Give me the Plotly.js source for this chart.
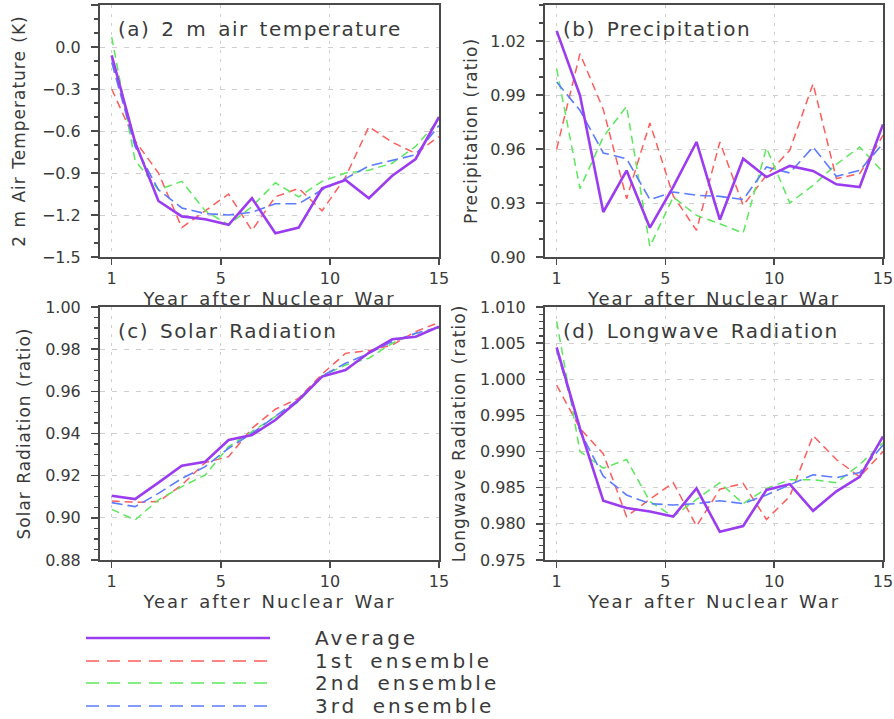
<!DOCTYPE html>
<html>
<head>
<meta charset="utf-8">
<script src="https://cdn.plot.ly/plotly-3.0.1.min.js"></script>
<style>
  html, body { margin: 0; padding: 0; background: #fff; }
  #chart { width: 894px; height: 719px; }
</style>
</head>
<body>
<div id="chart"></div>
<script>
// ---------- data ----------
const years = [1, 2, 3, 4, 5, 6, 7, 8, 9, 10, 11, 12, 13, 14, 15];
const xTickVals = [1, 5.667, 10.333, 15];
const xTickText = ['1', '5', '10', '15'];

const seriesNames = ['Average', '1st ensemble', '2nd ensemble', '3rd ensemble'];

// (a) 2 m air temperature (K)
const tempAvg  = [-0.06, -0.68, -1.10, -1.21, -1.23, -1.27, -1.08, -1.33, -1.29, -1.01, -0.95, -1.08, -0.92, -0.80, -0.50];
const tempEns1 = [-0.30, -0.67, -0.90, -1.29, -1.17, -1.05, -1.31, -1.07, -1.01, -1.17, -0.93, -0.57, -0.68, -0.76, -0.64];
const tempEns2 = [0.07, -0.81, -1.02, -0.96, -1.17, -1.27, -1.14, -0.97, -1.07, -0.96, -0.90, -0.88, -0.83, -0.71, -0.52];
const tempEns3 = [-0.11, -0.71, -1.02, -1.15, -1.19, -1.20, -1.18, -1.12, -1.12, -1.02, -0.94, -0.85, -0.81, -0.77, -0.56];

// (b) Precipitation (ratio)
const precAvg  = [1.0256, 0.9898, 0.925, 0.948, 0.9163, 0.939, 0.9639, 0.9207, 0.9546, 0.9444, 0.9506, 0.9478, 0.9404, 0.9389, 0.9737];
const precEns1 = [0.960, 1.013, 0.982, 0.9324, 0.9744, 0.934, 0.9148, 0.9639, 0.9287, 0.9454, 0.9593, 0.9963, 0.9435, 0.9463, 0.9676];
const precEns2 = [1.0046, 0.938, 0.9667, 0.9837, 0.9059, 0.9333, 0.9231, 0.9185, 0.9133, 0.9607, 0.930, 0.9398, 0.9515, 0.9611, 0.9472];
const precEns3 = [0.9972, 0.9815, 0.9578, 0.9546, 0.9319, 0.9361, 0.9343, 0.9337, 0.9319, 0.950, 0.9467, 0.9611, 0.9448, 0.9481, 0.963];

// (c) Solar Radiation (ratio)
const solAvg  = [0.9105, 0.9089, 0.9167, 0.9247, 0.9266, 0.9369, 0.9393, 0.9464, 0.9559, 0.967, 0.9701, 0.9783, 0.9847, 0.9859, 0.9907];
const solEns1 = [0.908, 0.9074, 0.9077, 0.9156, 0.9262, 0.929, 0.9425, 0.9515, 0.9567, 0.9682, 0.978, 0.9793, 0.982, 0.9883, 0.9927];
const solEns2 = [0.904, 0.899, 0.9085, 0.9148, 0.9203, 0.9338, 0.9409, 0.948, 0.9551, 0.9673, 0.9725, 0.9757, 0.9828, 0.9875, 0.9899];
const solEns3 = [0.9072, 0.9053, 0.9116, 0.9187, 0.9243, 0.933, 0.9401, 0.9483, 0.9562, 0.9673, 0.9733, 0.978, 0.9836, 0.9875, 0.9904];

// (d) Longwave Radiation (ratio)
const lwAvg  = [1.0044, 0.9932, 0.9832, 0.9822, 0.9817, 0.981, 0.9849, 0.9789, 0.9797, 0.9847, 0.9855, 0.9818, 0.9845, 0.9865, 0.9921];
const lwEns1 = [0.9992, 0.9932, 0.9897, 0.981, 0.9834, 0.9857, 0.9797, 0.9848, 0.9856, 0.9806, 0.9838, 0.9922, 0.9889, 0.9865, 0.990];
const lwEns2 = [1.008, 0.990, 0.9877, 0.9889, 0.9831, 0.981, 0.9834, 0.9857, 0.9828, 0.9849, 0.9861, 0.9861, 0.9857, 0.9882, 0.9912];
const lwEns3 = [1.0041, 0.9928, 0.9866, 0.984, 0.9828, 0.9826, 0.9828, 0.9832, 0.9828, 0.984, 0.9854, 0.9868, 0.9864, 0.9871, 0.9909];

const panelTitles = ['(a) 2 m air temperature', '(b) Precipitation', '(c) Solar Radiation', '(d) Longwave Radiation'];
const yTitles = ['2 m Air Temperature (K)', 'Precipitation (ratio)', 'Solar Radiation (ratio)', 'Longwave Radiation (ratio)'];
const xTitle = 'Year after Nuclear War';

// ---------- styling ----------
const W = 894, H = 719;
const FONT = 'DejaVu Sans, Liberation Sans, sans-serif';
const TXT = '#3a3a3a';
const AX = '#4a4a4a';
const styles = [
  {color: '#9b3cf0', width: 2.6, dash: 'solid'},
  {color: '#ff5c5c', width: 1.5, dash: '8px,5px'},
  {color: '#5ce85c', width: 1.5, dash: '8px,5px'},
  {color: '#5c7cff', width: 1.6, dash: '11px,5px'}
];
const spaced = (t, ls, ws) => '<span style="letter-spacing:' + ls + 'px;word-spacing:' + (ws || 0) + 'px">' + t + '</span>';

const px = v => v / W;
const py = v => 1 - v / H;

const panels = [
  {data: [tempAvg, tempEns1, tempEns2, tempEns3], range: [-1.5, 0.3], dtick: 0.3, tick0: 0, minor: 0.1, fmt: '.1f',
   x: [100, 439], y: [5, 257], standoff: 12},
  {data: [precAvg, precEns1, precEns2, precEns3], range: [0.90, 1.04], dtick: 0.03, tick0: 0.90, minor: 0.01, fmt: '.2f',
   x: [545, 883], y: [5, 257], standoff: 8},
  {data: [solAvg, solEns1, solEns2, solEns3], range: [0.88, 1.00], dtick: 0.02, tick0: 0.88, minor: 0.005, fmt: '.2f',
   x: [100, 439], y: [307, 560], standoff: 10},
  {data: [lwAvg, lwEns1, lwEns2, lwEns3], range: [0.975, 1.010], dtick: 0.005, tick0: 0.975, minor: 0.001, fmt: '.3f',
   x: [545, 883], y: [307, 560], standoff: 10}
];

const traces = [];
const layout = {
  width: W, height: H,
  margin: {l: 0, r: 0, t: 0, b: 0},
  paper_bgcolor: '#fff', plot_bgcolor: '#fff',
  showlegend: false,
  font: {family: FONT, color: TXT, size: 16},
  annotations: [], shapes: []
};

panels.forEach((p, i) => {
  const n = i + 1;
  const xa = 'x' + (n === 1 ? '' : n), ya = 'y' + (n === 1 ? '' : n);
  const xk = 'xaxis' + (n === 1 ? '' : n), yk = 'yaxis' + (n === 1 ? '' : n);
  // ensembles first, average on top
  [1, 2, 3, 0].forEach(k => {
    traces.push({
      x: years, y: p.data[k], xaxis: xa, yaxis: ya, type: 'scatter', mode: 'lines',
      name: seriesNames[k], line: {color: styles[k].color, width: styles[k].width, dash: styles[k].dash},
      hoverinfo: 'skip'
    });
  });
  layout[xk] = {
    domain: [px(p.x[0]), px(p.x[1])], anchor: ya, range: [0.5, 15],
    tickmode: 'array', tickvals: xTickVals, ticktext: xTickText,
    ticks: 'outside', ticklen: 6, tickwidth: 1.5, tickcolor: AX,
    showline: true, mirror: true, linecolor: AX, linewidth: 2,
    showgrid: true, gridcolor: '#cfcfcf', gridwidth: 1, griddash: '3px,6px',
    zeroline: false, tickfont: {size: 16, color: TXT, family: FONT},
    title: {text: spaced(xTitle, 2, 2), font: {size: 18, color: TXT, family: FONT}, standoff: 4},
    fixedrange: true
  };
  layout[yk] = {
    domain: [py(p.y[1]), py(p.y[0])], anchor: xa, range: p.range,
    tickmode: 'linear', tick0: p.tick0, dtick: p.dtick, tickformat: p.fmt,
    ticks: 'outside', ticklen: 7, tickwidth: 1.5, tickcolor: AX,
    minor: {dtick: p.minor, tick0: p.tick0, ticks: 'outside', ticklen: 4, tickcolor: AX, tickwidth: 1.2, showgrid: false},
    showline: true, mirror: true, linecolor: AX, linewidth: 2,
    showgrid: true, gridcolor: '#cfcfcf', gridwidth: 1, griddash: '5px,7px',
    zeroline: false, tickfont: {size: 16, color: TXT, family: FONT},
    ticklabelstandoff: 7,
    title: {text: spaced(yTitles[i], 1.0, 1), font: {size: 17, color: TXT, family: FONT}, standoff: p.standoff},
    fixedrange: true
  };
  layout.annotations.push({
    xref: 'paper', yref: 'paper', x: px(p.x[0] + 16), y: py(p.y[0] + 24),
    xanchor: 'left', yanchor: 'middle', showarrow: false,
    text: spaced(panelTitles[i], 1.5, 3), font: {size: 20, color: TXT, family: FONT}
  });
});

// custom legend (long sample lines as in the original figure)
const legY = [638, 661, 683, 706];
seriesNames.forEach((name, k) => {
  layout.shapes.push({
    type: 'line', xref: 'paper', yref: 'paper',
    x0: px(86), x1: px(270), y0: py(legY[k]), y1: py(legY[k]),
    line: {color: styles[k].color, width: k === 0 ? 2.4 : 1.5, dash: k === 0 ? 'solid' : '13px,8px'}
  });
  layout.annotations.push({
    xref: 'paper', yref: 'paper', x: px(313), y: py(legY[k]),
    xanchor: 'left', yanchor: 'middle', showarrow: false,
    text: spaced(name, 3, 6), font: {size: 20, color: TXT, family: FONT}
  });
});

Plotly.newPlot('chart', traces, layout, {displayModeBar: false, staticPlot: true});
</script>
</body>
</html>
